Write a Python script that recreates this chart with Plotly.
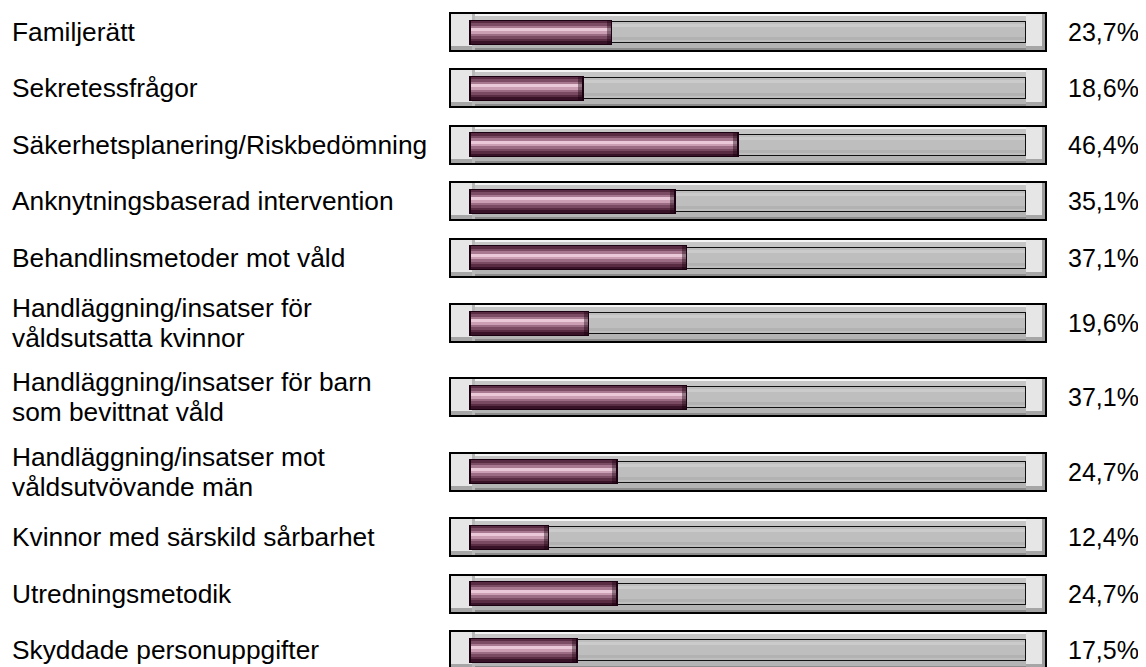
import plotly.graph_objects as go

categories = [
    "Familjerätt",
    "Sekretessfrågor",
    "Säkerhetsplanering/Riskbedömning",
    "Anknytningsbaserad intervention",
    "Behandlinsmetoder mot våld",
    "Handläggning/insatser för<br>våldsutsatta kvinnor",
    "Handläggning/insatser för barn<br>som bevittnat våld",
    "Handläggning/insatser mot<br>våldsutvövande män",
    "Kvinnor med särskild sårbarhet",
    "Utredningsmetodik",
    "Skyddade personuppgifter",
]
values = [23.7, 18.6, 46.4, 35.1, 37.1, 19.6, 37.1, 24.7, 12.4, 24.7, 17.5]
value_labels = ["23,7%", "18,6%", "46,4%", "35,1%", "37,1%", "19,6%",
                "37,1%", "24,7%", "12,4%", "24,7%", "17,5%"]

# The page body has an 8px default margin; work in page pixels and shift.
OFF = 8
W, H = 1146 - OFF, 667 - OFF
ML, MR = 441 - OFF, 96 - OFF
XMIN, XMAX = -6.97, 103.55
PLOT_W = W - ML - MR
PXU = PLOT_W / (XMAX - XMIN)
N = len(categories)

# row layout (page px): single-line rows 56.4 px tall, two-line rows taller
ROW_SINGLE, ROW_DOUBLE = 56.4, 74.4
heights = [ROW_DOUBLE if "<br>" in c else ROW_SINGLE for c in categories]
centers = [32.0]
for i in range(1, N):
    centers.append(centers[-1] + (heights[i - 1] + heights[i]) / 2)
ypos = [c - OFF for c in centers]  # figure px (y axis in px, reversed)


def dx(page_px):
    return (page_px - OFF - ML) / PXU + XMIN


fig = go.Figure()


def band(x0px, x1px, y0, y1, color):
    b = dx(x0px)
    ln = dx(x1px) - b
    fig.add_trace(go.Bar(
        orientation="h", y=ypos, x=[ln] * N, base=[b] * N,
        width=y1 - y0, offset=y0,
        marker=dict(color=color, line=dict(width=0)),
        hoverinfo="skip", showlegend=False))


# outer frame
band(449, 1047, -20, 20, "#000000")
band(451, 1045, -18, 18, "#e6e6e6")
# track (between caps)
band(475, 1026, -18, -16, "#f4f4f4")
band(475, 1026, -16, -11, "#c6c6c6")
band(475, 1026, -11, 11, "#111111")
band(475, 1025, -10, 10, "#bebebe")
band(475, 1025, -8, -5, "#cbcbcb")
band(475, 1025, 5, 8, "#b2b2b2")
band(475, 1026, 11, 16, "#b4b4b4")
band(475, 1026, 16, 18, "#8c8c8c")
# cap shading
band(451, 475, 14, 18, "#a6a6a6")
band(472, 475, -18, 18, "#b8b8b8")
band(1026, 1045, 14, 18, "#a6a6a6")
band(1042, 1045, -18, 18, "#9c9c9c")

# value bars
bar_start = dx(469)
stripes = [
    (-12.5, 12.5, "#1a0010"),
    (-11.5, -9, "#5a2c44"),
    (-9, -6.5, "#7c4c64"),
    (-6.5, -4, "#a87890"),
    (-4, -1, "#eac8d8"),
    (-1, 1.5, "#cc9eb4"),
    (1.5, 4, "#9c6c84"),
    (4, 6.5, "#7a4a62"),
    (6.5, 9, "#5a2c44"),
    (9, 11.5, "#381226"),
]
for k, (y0, y1, col) in enumerate(stripes):
    inset = 0 if k == 0 else 1.5 / PXU
    fig.add_trace(go.Bar(
        orientation="h", y=ypos,
        x=[v - bar_start - 2 * inset for v in values],
        base=[bar_start + inset] * N,
        width=y1 - y0, offset=y0,
        marker=dict(color=col, line=dict(width=0)),
        hoverinfo="skip", showlegend=False))
# darker rounded end
fig.add_trace(go.Bar(
    orientation="h", y=ypos, x=[4 / PXU] * N,
    base=[v - 5.5 / PXU for v in values],
    width=23, offset=-11.5,
    marker=dict(color="rgba(20,0,10,0.4)", line=dict(width=0)),
    hoverinfo="skip", showlegend=False))

annotations = []
FONT = dict(family="Liberation Sans, Arial, Helvetica, sans-serif", size=26.3, color="#000000")
PFONT = dict(family="Liberation Sans, Arial, Helvetica, sans-serif", size=25, color="#000000")
for y, cat, lab in zip(ypos, categories, value_labels):
    lines = cat.split("<br>")
    shifts = [0] if len(lines) == 1 else [15, -15]
    for line, s in zip(lines, shifts):
        annotations.append(dict(
            x=(10 - OFF - ML) / PLOT_W, xref="paper", xanchor="left",
            y=y, yref="y", yanchor="middle", yshift=s,
            text=line, showarrow=False, font=FONT))
    annotations.append(dict(
        x=(1066 - OFF - ML) / PLOT_W, xref="paper", xanchor="left",
        y=y, yref="y", yanchor="middle",
        text=lab, showarrow=False, font=PFONT))

fig.update_layout(
    width=W, height=H,
    margin=dict(l=ML, r=MR, t=0, b=0, pad=0),
    paper_bgcolor="#ffffff", plot_bgcolor="#ffffff",
    barmode="overlay", bargap=0,
    showlegend=False,
    xaxis=dict(range=[XMIN, XMAX], visible=False, fixedrange=True),
    yaxis=dict(range=[H, 0], visible=False, fixedrange=True),
    annotations=annotations,
)

fig.write_html("out.html")
